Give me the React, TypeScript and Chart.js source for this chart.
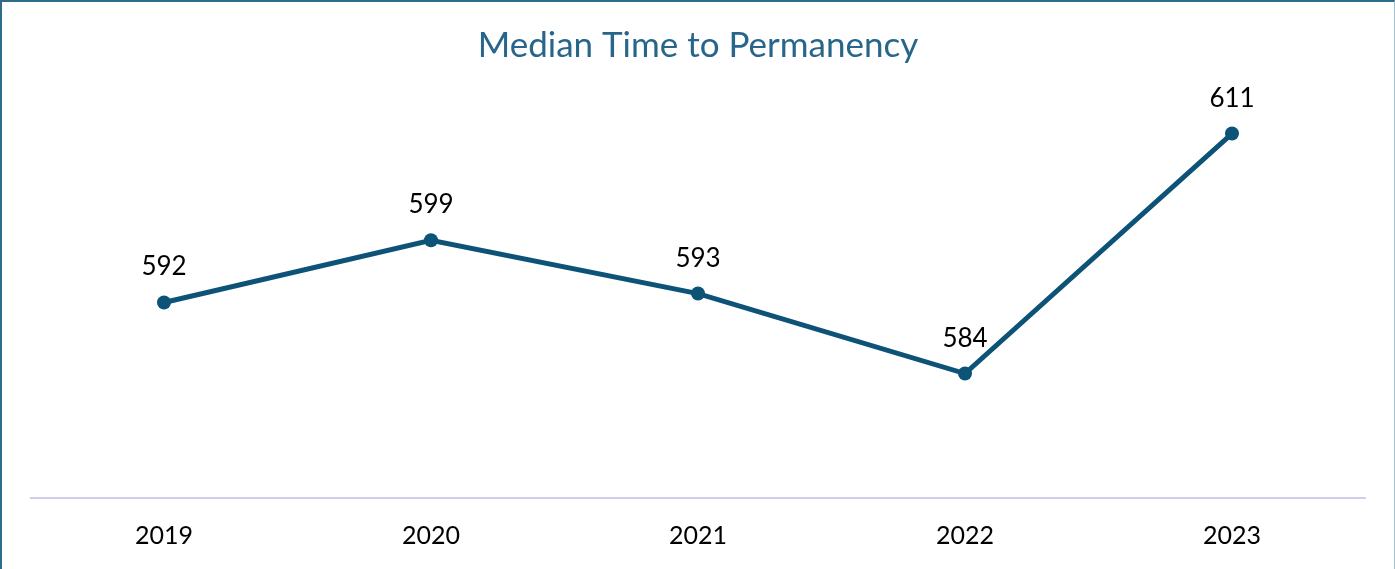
import React, { useEffect, useRef } from "react";
import { Chart, registerables } from "chart.js";

Chart.register(...registerables);

const chartTitle = "Median Time to Permanency";
const categories = ["2019", "2020", "2021", "2022", "2023"];
const medianDays = [592, 599, 593, 584, 611];
const yMin = 570;
const yMax = 615;

const LINE_COLOR = "#0D5377";
const TITLE_COLOR = "#27668A";

const pointLabelPlugin = {
  id: "pointLabels",
  afterDatasetsDraw(chart: any) {
    const ctx = chart.ctx;
    const meta = chart.getDatasetMeta(0);
    ctx.save();
    ctx.font = "26px Lato";
    ctx.fillStyle = "#000000";
    ctx.textAlign = "center";
    ctx.textBaseline = "alphabetic";
    meta.data.forEach((pt: any, i: number) => {
      ctx.fillText(String(medianDays[i]), pt.x, pt.y - 27);
    });
    ctx.restore();
  },
};

export default function App() {
  const canvasRef = useRef<HTMLCanvasElement | null>(null);

  useEffect(() => {
    document.body.style.margin = "0";
    const canvas = canvasRef.current;
    if (!canvas) return;
    const chart = new Chart(canvas, {
      type: "line",
      data: {
        labels: categories,
        datasets: [
          {
            data: medianDays,
            borderColor: LINE_COLOR,
            backgroundColor: LINE_COLOR,
            borderWidth: 5,
            pointRadius: 7,
            pointBackgroundColor: LINE_COLOR,
            pointBorderWidth: 0,
            tension: 0,
            fill: false,
          },
        ],
      },
      options: {
        animation: false,
        responsive: false,
        maintainAspectRatio: false,
        layout: {
          padding: { left: 30.5, right: 29.5, top: 0, bottom: 0 },
        },
        plugins: {
          legend: { display: false },
          tooltip: { enabled: false },
          title: {
            display: true,
            text: chartTitle,
            color: TITLE_COLOR,
            font: { family: "Lato", size: 35, weight: "normal" },
            padding: { top: 25, bottom: 31 },
          },
        },
        scales: {
          x: {
            offset: true,
            grid: { display: false, drawTicks: false },
            border: { display: true, color: "#D2CDEC", width: 2 },
            ticks: {
              color: "#000000",
              font: { family: "Lato", size: 25 },
              padding: 23,
            },
            afterFit(scale: any) {
              scale.height = 71;
            },
          },
          y: {
            display: false,
            min: yMin,
            max: yMax,
          },
        },
      },
      plugins: [pointLabelPlugin],
    });
    return () => chart.destroy();
  }, []);

  return (
    <div style={{ position: "relative", width: 1395, height: 569, overflow: "hidden", background: "#fff" }}>
      <canvas ref={canvasRef} width={1395} height={569} style={{ display: "block" }} />
      <div
        style={{
          position: "absolute",
          left: 0,
          top: 0,
          width: 1395,
          height: 600,
          boxSizing: "border-box",
          borderLeft: "2px solid #2F6C8C",
          borderTop: "2px solid #2F6C8C",
          borderRight: "1px solid #A3C1CE",
          pointerEvents: "none",
        }}
      />
    </div>
  );
}
